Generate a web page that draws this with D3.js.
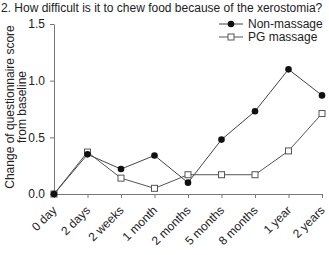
<!DOCTYPE html>
<html>
<head>
<meta charset="utf-8">
<script src="https://cdn.jsdelivr.net/npm/d3@7"></script>
<style>
  body { margin: 0; background: #fff; }
  text { font-family: "Liberation Sans", Arial, sans-serif; fill: #222; }
</style>
</head>
<body>
<script>
var categories = ["0 day", "2 days", "2 weeks", "1 month", "2 months", "5 months", "8 months", "1 year", "2 years"];
var nonMassage = [0, 0.35, 0.22, 0.34, 0.10, 0.48, 0.73, 1.10, 0.87];
var pgMassage = [0, 0.37, 0.14, 0.05, 0.17, 0.17, 0.17, 0.38, 0.71];
var yTicks = [0, 0.5, 1.0, 1.5];

var width = 329, height = 255;
var margin = {top: 24, right: 7, bottom: 61, left: 54};

var svg = d3.select("body").append("svg")
    .attr("width", width)
    .attr("height", height);

var x = d3.scalePoint()
    .domain(categories)
    .range([margin.left, width - margin.right]);

var y = d3.scaleLinear()
    .domain([0, 1.5])
    .range([height - margin.bottom, margin.top]);

// title
svg.append("text")
    .attr("x", 1)
    .attr("y", 12)
    .style("font-size", "12px")
    .text("2. How difficult is it to chew food because of the xerostomia?");

// axes
var xAxis = svg.append("g")
    .attr("transform", "translate(0," + (height - margin.bottom) + ")")
    .call(d3.axisBottom(x).tickSize(4).tickSizeOuter(0));
xAxis.selectAll("text")
    .style("font-size", "12px")
    .attr("text-anchor", "end")
    .attr("x", 0)
    .attr("y", 0)
    .attr("dy", "0.35em")
    .attr("transform", "translate(0,14) rotate(-45)");

var yAxis = svg.append("g")
    .attr("transform", "translate(" + margin.left + ",0)")
    .call(d3.axisLeft(y).tickValues(yTicks).tickFormat(d3.format(".1f")).tickSize(4).tickSizeOuter(0));
yAxis.selectAll("text").style("font-size", "12px").attr("x", -9);

svg.selectAll(".domain, .tick line").attr("stroke", "#777");

// y label
var yl = svg.append("text")
    .attr("transform", "translate(14," + ((margin.top + height - margin.bottom) / 2 - 2) + ") rotate(-90)")
    .attr("text-anchor", "middle")
    .style("font-size", "12px");
yl.append("tspan").attr("x", 0).attr("dy", 0).text("Change of questionnaire score");
yl.append("tspan").attr("x", 0).attr("dy", 12).text("from baseline");

var line = d3.line()
    .x(function(d, i) { return x(categories[i]); })
    .y(function(d) { return y(d); });

svg.append("path")
    .datum(pgMassage)
    .attr("d", line)
    .attr("fill", "none")
    .attr("stroke", "#555")
    .attr("stroke-width", 1);

svg.append("path")
    .datum(nonMassage)
    .attr("d", line)
    .attr("fill", "none")
    .attr("stroke", "#444")
    .attr("stroke-width", 1);

svg.selectAll(".sq")
    .data(pgMassage)
    .enter().append("rect")
    .attr("x", function(d, i) { return x(categories[i]) - 3; })
    .attr("y", function(d) { return y(d) - 3; })
    .attr("width", 6)
    .attr("height", 6)
    .attr("fill", "#fff")
    .attr("stroke", "#555");

svg.selectAll(".dot")
    .data(nonMassage)
    .enter().append("circle")
    .attr("cx", function(d, i) { return x(categories[i]); })
    .attr("cy", function(d) { return y(d); })
    .attr("r", 3.3)
    .attr("fill", "#111");

// legend
var legend = svg.append("g").attr("transform", "translate(219,24)");
legend.append("line").attr("x1", 0).attr("x2", 24).attr("y1", 0).attr("y2", 0).attr("stroke", "#444");
legend.append("circle").attr("cx", 12).attr("cy", 0).attr("r", 3.3).attr("fill", "#111");
legend.append("text").attr("x", 29).attr("y", 4).style("font-size", "12px").text("Non-massage");
legend.append("line").attr("x1", 0).attr("x2", 24).attr("y1", 13).attr("y2", 13).attr("stroke", "#555");
legend.append("rect").attr("x", 9).attr("y", 10).attr("width", 6).attr("height", 6).attr("fill", "#fff").attr("stroke", "#555");
legend.append("text").attr("x", 29).attr("y", 17).style("font-size", "12px").text("PG massage");
</script>
</body>
</html>
